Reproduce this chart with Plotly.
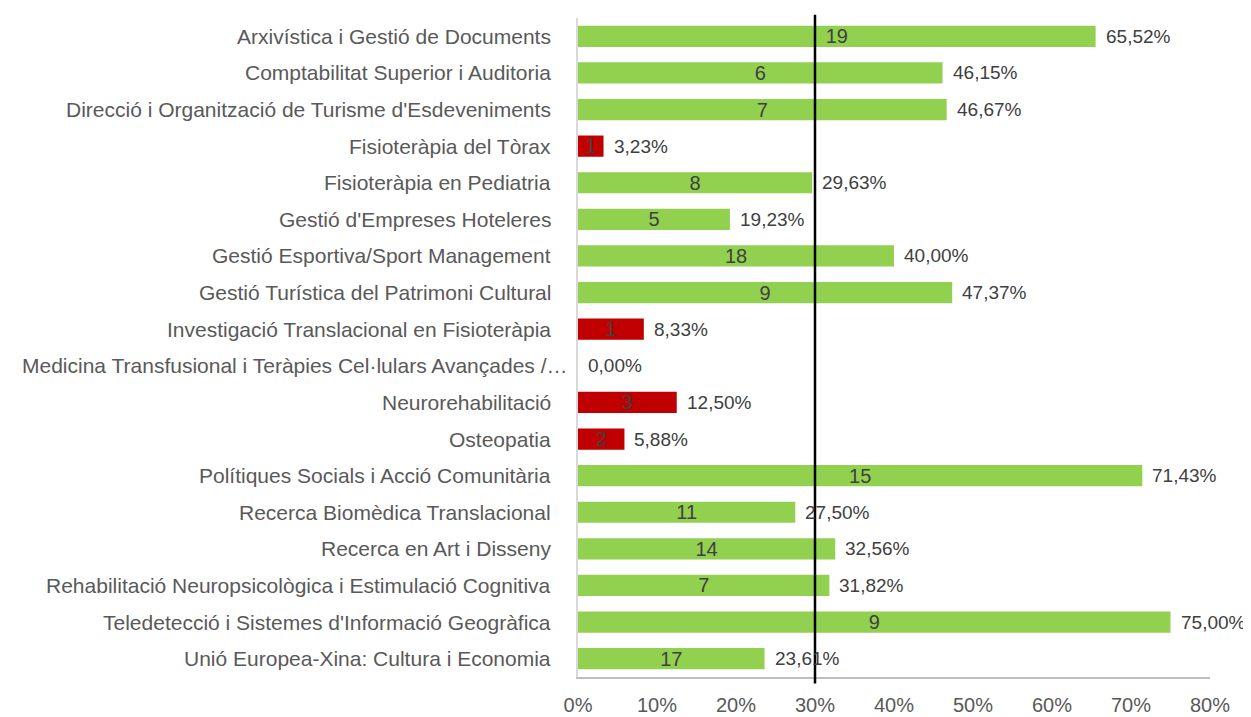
import plotly.graph_objects as go

categories = [
    "Arxivística i Gestió de Documents",
    "Comptabilitat Superior i Auditoria",
    "Direcció i Organització de Turisme d'Esdeveniments",
    "Fisioteràpia del Tòrax",
    "Fisioteràpia en Pediatria",
    "Gestió d'Empreses Hoteleres",
    "Gestió Esportiva/Sport Management",
    "Gestió Turística del Patrimoni Cultural",
    "Investigació Translacional en Fisioteràpia",
    "Medicina Transfusional i Teràpies Cel·lulars Avançades /…",
    "Neurorehabilitació",
    "Osteopatia",
    "Polítiques Socials i Acció Comunitària",
    "Recerca Biomèdica Translacional",
    "Recerca en Art i Disseny",
    "Rehabilitació Neuropsicològica i Estimulació Cognitiva",
    "Teledetecció i Sistemes d'Informació Geogràfica",
    "Unió Europea-Xina: Cultura i Economia",
]
counts = [19, 6, 7, 1, 8, 5, 18, 9, 1, 0, 3, 2, 15, 11, 14, 7, 9, 17]
percents = [65.52, 46.15, 46.67, 3.23, 29.63, 19.23, 40.00, 47.37, 8.33, 0.00,
            12.50, 5.88, 71.43, 27.50, 32.56, 31.82, 75.00, 23.61]
x_ticks = [0, 0.1, 0.2, 0.3, 0.4, 0.5, 0.6, 0.7, 0.8]
reference_line = 0.30

GREEN = "#92D050"
RED = "#C00000"
FONT = "Liberation Sans"
FS = 21
FS_SMALL = 20
FS_PCT = 19

fracs = [p / 100 for p in percents]
colors = [RED if p < 15 else GREEN for p in percents]
bar_text = [str(c) if c > 0 else "" for c in counts]

fig = go.Figure()
fig.add_trace(go.Bar(
    y=categories, x=fracs, orientation="h",
    marker=dict(color=colors, line=dict(width=0)),
    text=bar_text, textposition="inside", insidetextanchor="middle",
    constraintext="none", textangle=0, cliponaxis=False,
    textfont=dict(family=FONT, size=FS_SMALL, color="#404040"),
    hoverinfo="skip", showlegend=False,
))

annotations = []
for cat, f, p in zip(categories, fracs, percents):
    # value label to the right of the bar
    annotations.append(dict(
        x=f, y=cat, xref="x", yref="y", text=f"{p:.2f}".replace(".", ",") + "%",
        showarrow=False, xanchor="left", xshift=8,
        font=dict(family=FONT, size=FS_PCT, color="#404040"),
    ))
    # category label (long truncated label sits closer to the axis, as in the original)
    annotations.append(dict(
        x=0, y=cat, xref="x", yref="y", text=cat,
        showarrow=False, xanchor="right",
        xshift=-8 if cat.endswith("…") else -25,
        font=dict(family=FONT, size=FS, color="#595959"),
    ))

fig.add_shape(type="line", xref="x", yref="paper",
              x0=reference_line, x1=reference_line, y0=-0.01, y1=1.005,
              line=dict(color="black", width=2.5))

# page body has an 8px default margin, so the figure is sized to fit the window
fig.update_layout(
    width=1243, height=709,
    margin=dict(l=570, r=41, t=10, b=40),
    paper_bgcolor="white", plot_bgcolor="white",
    bargap=0.42,
    annotations=annotations,
    font=dict(family=FONT, size=FS, color="#595959"),
    xaxis=dict(range=[0, 0.8], tickvals=x_ticks, tickformat=".0%",
               showgrid=False, zeroline=False, showline=True,
               linecolor="#BFBFBF", linewidth=1.5, ticks="",
               automargin=False, ticklabelstandoff=9,
               tickfont=dict(family=FONT, size=FS_SMALL, color="#595959")),
    yaxis=dict(autorange="reversed", showgrid=False, zeroline=False,
               showline=True, linecolor="#D9D9D9", linewidth=1.5, ticks="",
               automargin=False, showticklabels=False),
)

fig.write_html("out.html")
